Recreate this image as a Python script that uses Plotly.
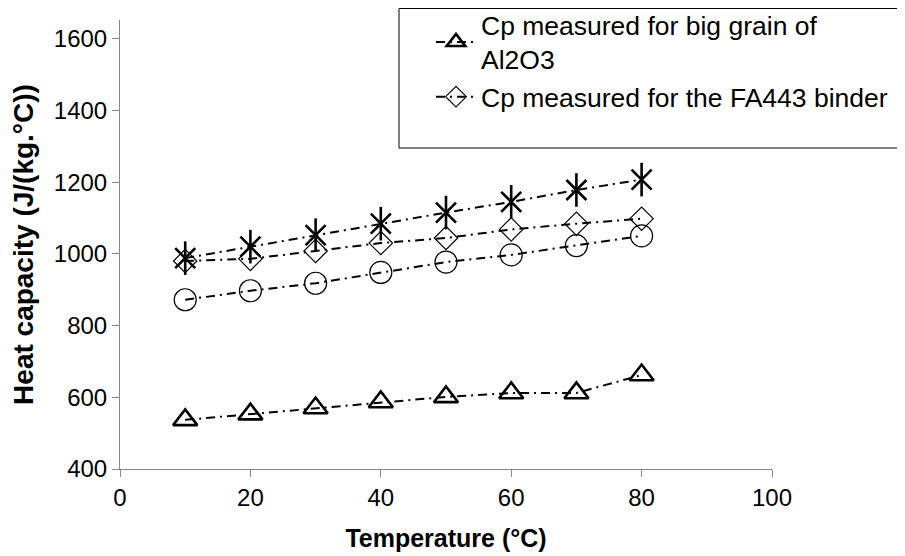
import plotly.graph_objects as go

temps = [10, 20, 30, 40, 50, 60, 70, 80]
cp_al2o3 = [537, 553, 570, 587, 601, 612, 612, 662]
cp_binder = [980, 986, 1008, 1030, 1044, 1068, 1084, 1098]
cp_circle = [872, 897, 918, 948, 977, 997, 1023, 1050]
cp_star = [988, 1020, 1052, 1084, 1115, 1145, 1178, 1207]

name_al2o3 = "Cp measured for big grain of<br>Al2O3"
name_binder = "Cp measured for the FA443 binder"

x_ticks = [0, 20, 40, 60, 80, 100]
y_ticks = [400, 600, 800, 1000, 1200, 1400, 1600]

dash = "9px,5px,2px,5px"
font = "Liberation Sans, Arial, sans-serif"

# figure geometry (page body has an 8px margin)
W, H = 897, 548
L, R, T, B = 112, 133, 12, 87
PW, PH = W - L - R, H - T - B


def px_x(fx):
    return (fx - L) / PW


def px_y(fy):
    return (H - B - fy) / PH


fig = go.Figure()

fig.add_trace(go.Scatter(
    x=temps, y=cp_al2o3, name=name_al2o3, mode="lines+markers",
    line=dict(color="black", width=2, dash=dash),
    marker=dict(symbol="triangle-up-open", size=21, color="black",
                line=dict(width=2.6, color="black")),
))
fig.add_trace(go.Scatter(
    x=temps, y=cp_binder, name=name_binder, mode="lines+markers",
    line=dict(color="black", width=2, dash=dash),
    marker=dict(symbol="diamond-open", size=18, color="black",
                line=dict(width=1.2, color="black")),
))
fig.add_trace(go.Scatter(
    x=temps, y=cp_circle, name="circle", mode="lines+markers", showlegend=False,
    line=dict(color="black", width=2, dash=dash),
    marker=dict(symbol="circle-open", size=22, color="black",
                line=dict(width=1.2, color="black")),
))
fig.add_trace(go.Scatter(
    x=temps, y=cp_star, name="star", mode="lines+markers", showlegend=False,
    line=dict(color="black", width=2, dash=dash),
    marker=dict(symbol="x-thin-open", size=20, color="black",
                line=dict(width=2.6, color="black")),
))
fig.add_trace(go.Scatter(
    x=temps, y=cp_star, name="star2", mode="markers", showlegend=False,
    marker=dict(symbol="line-ns-open", size=24, color="black",
                line=dict(width=2.6, color="black")),
))

axis_common = dict(
    showgrid=False, zeroline=False, showline=True, linecolor="#868686",
    linewidth=1, ticks="outside", ticklen=7, tickcolor="#868686",
    tickfont=dict(family=font, size=24, color="black"),
)

fig.update_layout(
    width=W, height=H,
    margin=dict(l=L, r=R, t=T, b=B, autoexpand=False),
    paper_bgcolor="white", plot_bgcolor="white",
    font=dict(family=font, size=24, color="black"),
    xaxis=dict(range=[0, 100], tickvals=x_ticks,
               title=dict(text="<b>Temperature (°C)</b>", font=dict(size=25), standoff=19),
               **axis_common),
    yaxis=dict(range=[400, 1652], tickvals=y_ticks,
               title=dict(text="<b>Heat capacity (J/(kg.°C))</b>", font=dict(size=28), standoff=19),
               **axis_common),
    showlegend=True,
    legend=dict(
        x=px_x(423), y=px_y(-7), xanchor="left", yanchor="top",
        bgcolor="rgba(0,0,0,0)", borderwidth=0,
        font=dict(family=font, size=26.5, color="black"),
        itemwidth=40, tracegroupgap=0,
    ),
    shapes=[dict(type="rect", xref="paper", yref="paper",
                 x0=px_x(391), x1=px_x(893),
                 y0=px_y(140), y1=px_y(0.5),
                 line=dict(color="black", width=1), fillcolor="white", layer="below")],
)

fig.write_html("out.html")
